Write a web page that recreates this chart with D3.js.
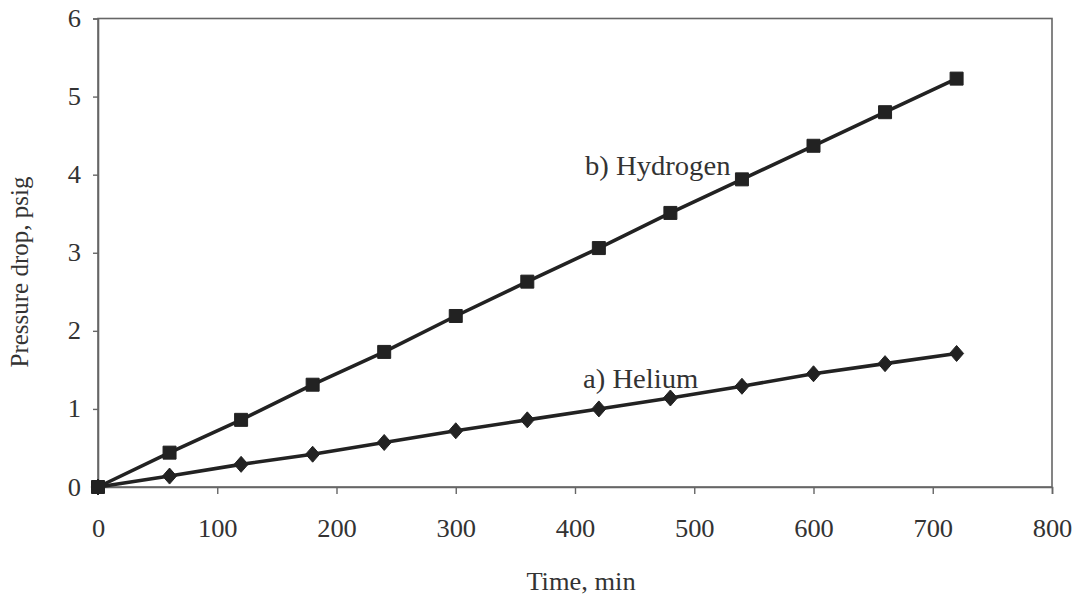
<!DOCTYPE html>
<html>
<head>
<meta charset="utf-8">
<script src="https://cdn.jsdelivr.net/npm/d3@7"></script>
<style>
  html, body { margin: 0; padding: 0; background: #fff; }
  svg { display: block; }
  text { font-family: "Times New Roman", Times, "Liberation Serif", Tinos, serif; fill: #333; }
</style>
</head>
<body>
<svg id="chart" width="1078" height="596"></svg>
<script>
// Elapsed time, minutes
const timeMin = [0, 60, 120, 180, 240, 300, 360, 420, 480, 540, 600, 660, 720];
// Pressure drop (psig) for each gas
const helium   = [0, 0.14, 0.29, 0.42, 0.57, 0.72, 0.86, 1.00, 1.14, 1.29, 1.45, 1.58, 1.71];
const hydrogen = [0, 0.44, 0.86, 1.31, 1.73, 2.19, 2.63, 3.06, 3.51, 3.94, 4.37, 4.80, 5.23];
const xTicks = [0, 100, 200, 300, 400, 500, 600, 700, 800];
const yTicks = [0, 1, 2, 3, 4, 5, 6];
const seriesNames = ["a) Helium", "b) Hydrogen"];

const fontStack = '"Times New Roman", Times, "Liberation Serif", Tinos, serif';
const svg = d3.select("#chart");
const plotL = 98, plotR = 1052, plotT = 18.5, plotB = 487;

const x = d3.scaleLinear().domain([0, 800]).range([plotL, plotR]);
const y = d3.scaleLinear().domain([0, 6]).range([plotB, plotT]);

const ink = "#222";
const frame = "#666";

// plot frame
svg.append("rect")
  .attr("x", plotL).attr("y", plotT)
  .attr("width", plotR - plotL).attr("height", plotB - plotT)
  .attr("fill", "none").attr("stroke", frame).attr("stroke-width", 1.6);

// axes
const xAxis = svg.append("g")
  .attr("transform", `translate(0,${plotB})`)
  .call(d3.axisBottom(x).tickValues(xTicks).tickSize(7).tickPadding(25).tickFormat(d3.format("d")));
const yAxis = svg.append("g")
  .attr("transform", `translate(${plotL},0)`)
  .call(d3.axisLeft(y).tickValues(yTicks).tickSize(5).tickPadding(12).tickFormat(d3.format("d")));

[xAxis, yAxis].forEach(g => {
  g.attr("font-family", null).attr("font-size", null);
  g.select(".domain").attr("stroke", frame).attr("stroke-width", 1.6);
  g.selectAll(".tick line").attr("stroke", frame).attr("stroke-width", 1.4);
  g.selectAll(".tick text")
    .attr("fill", "#333")
    .style("font-family", fontStack)
    .style("font-size", "25px");
});
xAxis.selectAll(".tick text").attr("transform", "scale(1.06,1)");
yAxis.selectAll(".tick text").each(function () {
  const t = d3.select(this);
  const tx = +t.attr("x");
  t.attr("x", tx / 1.06).attr("transform", "scale(1.06,1)");
});

// axis titles
svg.append("text")
  .attr("transform", `translate(${(plotL + plotR) / 2 + 6},590) scale(1.08,1)`)
  .attr("text-anchor", "middle")
  .style("font-family", fontStack)
  .style("font-size", "24.5px")
  .text("Time, min");

svg.append("text")
  .attr("transform", `translate(28,272) rotate(-90)`)
  .attr("text-anchor", "middle")
  .style("font-family", fontStack)
  .style("font-size", "25px")
  .text("Pressure drop, psig");

// series lines
const line = d3.line().x((d, i) => x(timeMin[i])).y(d => y(d));

function drawSeries(values, markerPath) {
  svg.append("path")
    .datum(values)
    .attr("d", line)
    .attr("fill", "none")
    .attr("stroke", ink)
    .attr("stroke-width", 3.6)
    .attr("stroke-linejoin", "round");
  svg.append("g").selectAll("path")
    .data(values)
    .join("path")
    .attr("transform", (d, i) => `translate(${x(timeMin[i])},${y(d)})`)
    .attr("d", markerPath)
    .attr("fill", ink)
    .attr("stroke", ink)
    .attr("stroke-width", 1);
}

const diamond = "M0,-8L7,0L0,8L-7,0Z";
const square = "M-6.5,-6.5H6.5V6.5H-6.5Z";

drawSeries(helium, diamond);
drawSeries(hydrogen, square);

// series labels
svg.append("text")
  .attr("transform", `translate(583,388) scale(1.08,1)`)
  .style("font-family", fontStack)
  .style("font-size", "26.5px")
  .text(seriesNames[0]);
svg.append("text")
  .attr("transform", `translate(585,175) scale(1.08,1)`)
  .style("font-family", fontStack)
  .style("font-size", "26.5px")
  .text(seriesNames[1]);
</script>
</body>
</html>
